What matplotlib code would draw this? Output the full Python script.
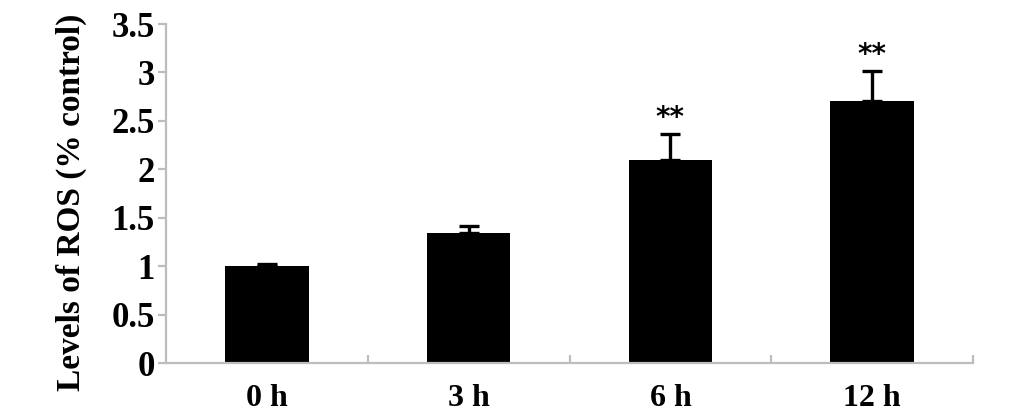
import matplotlib
matplotlib.use("Agg")
import matplotlib.pyplot as plt
import numpy as np

categories = ["0 h", "3 h", "6 h", "12 h"]
values = [1.00, 1.34, 2.10, 2.71]
errors = [0.02, 0.07, 0.26, 0.30]
stars = ["", "", "**", "**"]
yticks = [0, 0.5, 1, 1.5, 2, 2.5, 3, 3.5]
ytick_labels = ["0", "0.5", "1", "1.5", "2", "2.5", "3", "3.5"]
ylabel = "Levels of ROS (% control)"

plt.rcParams['font.family'] = ['Liberation Serif', 'DejaVu Serif']

fig = plt.figure(figsize=(10.33, 4.17), dpi=100)
ax = fig.add_axes([166/1033, 54/417, (973-166)/1033, (363-24)/417])

x = np.arange(len(categories))
ax.bar(x, values, width=0.415, color="black", zorder=2)
ax.errorbar(x, values, yerr=[np.zeros(len(errors)), errors], fmt="none",
            ecolor="black", elinewidth=2.4, capsize=7, capthick=2.4, zorder=3)

for xi, v, e, s in zip(x, values, errors, stars):
    if s:
        ax.text(xi, v + e + 0.03, s, ha="center", va="bottom",
                fontsize=20, fontweight="bold", family="DejaVu Sans")

ax.set_xlim(-0.5, 3.5)
ax.set_ylim(0, 3.5)
ax.set_yticks(yticks)
ax.set_yticklabels(ytick_labels)
ax.set_xticks(x)
ax.set_xticklabels(categories)
ax.set_xticks([0.5, 1.5, 2.5, 3.5], minor=True)

for lab in ax.get_yticklabels():
    lab.set_fontweight("bold")
    lab.set_fontsize(25)
for lab in ax.get_xticklabels():
    lab.set_fontweight("bold")
    lab.set_fontsize(23)

spine_col = "#bdbdbd"
for side in ["top", "right"]:
    ax.spines[side].set_visible(False)
for side in ["left", "bottom"]:
    ax.spines[side].set_color(spine_col)
    ax.spines[side].set_linewidth(1.6)

ax.tick_params(axis="y", direction="out", length=6, width=1.6, color=spine_col, pad=2)
ax.tick_params(axis="x", which="major", length=0, pad=15)
ax.tick_params(axis="x", which="minor", direction="in", length=6, width=1.6, color=spine_col)

ax.set_ylabel(ylabel, fontsize=24, fontweight="bold")
ax.yaxis.set_label_coords(-0.098, 0.475)

fig.savefig("out.png", dpi=100)
